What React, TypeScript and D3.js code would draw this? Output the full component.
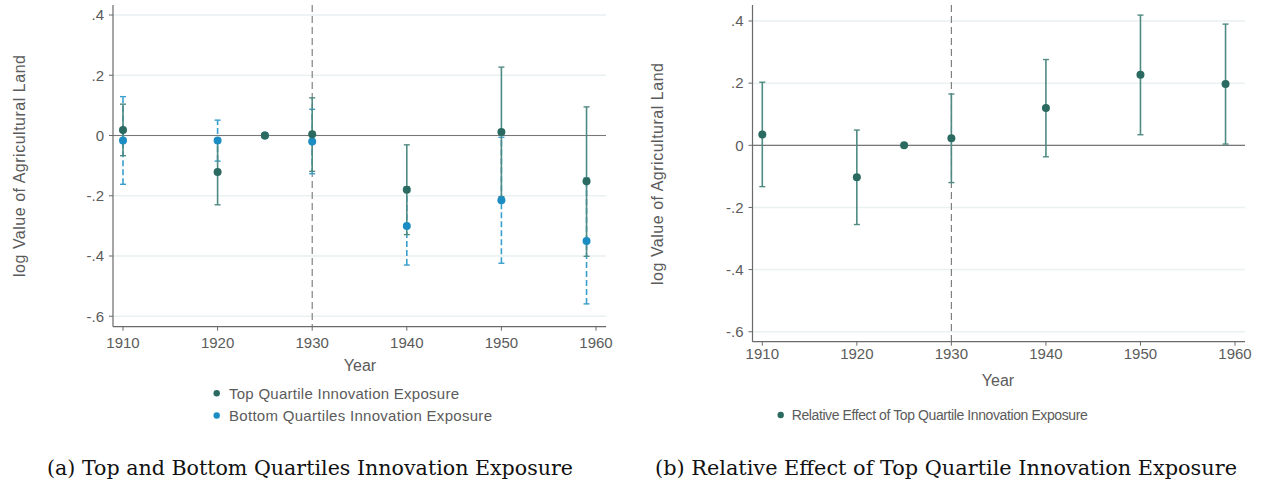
import React from "react";
import * as d3 from "d3";

// ---------- data ----------
const yearsA = [1910, 1920, 1925, 1930, 1940, 1950, 1959];
const topEst = [0.018, -0.121, 0, 0.004, -0.18, 0.012, -0.152];
const topLo = [-0.067, -0.23, 0, -0.119, -0.329, -0.203, -0.401];
const topHi = [0.104, -0.012, 0, 0.125, -0.031, 0.227, 0.095];
const botEst = [-0.017, -0.017, 0, -0.02, -0.3, -0.215, -0.35];
const botLo = [-0.162, -0.085, 0, -0.127, -0.43, -0.424, -0.559];
const botHi = [0.129, 0.051, 0, 0.087, -0.17, -0.006, -0.141];

const yearsB = [1910, 1920, 1925, 1930, 1940, 1950, 1959];
const relEst = [0.035, -0.103, 0, 0.0225, 0.12, 0.227, 0.197];
const relLo = [-0.133, -0.255, 0, -0.12, -0.037, 0.034, 0.004];
const relHi = [0.203, 0.049, 0, 0.165, 0.276, 0.419, 0.39];

const xTicks = [1910, 1920, 1930, 1940, 1950, 1960];
const yTicks = [0.4, 0.2, 0, -0.2, -0.4, -0.6];
const yTickLabels = [".4", ".2", "0", "-.2", "-.4", "-.6"];

const legendA = ["Top Quartile Innovation Exposure", "Bottom Quartiles Innovation Exposure"];
const legendB = ["Relative Effect of Top Quartile Innovation Exposure"];
const captionA = "(a) Top and Bottom Quartiles Innovation Exposure";
const captionB = "(b) Relative Effect of Top Quartile Innovation Exposure";

const DARK = "#2b6a61";
const DARK_CI = "#4f8a83";
const BLUE = "#1b8dc2";
const BLUE_CI = "#3a9fcc";
const GRID = "#e9f1f3";
const AXIS = "#6a6a6a";
const TXT = "#5b5b5b";
const SANS = "'Liberation Sans', Arial, sans-serif";
const SERIF = "'DejaVu Serif', 'Liberation Serif', serif";

type Series = {
  years: number[];
  est: number[];
  lo: number[];
  hi: number[];
  color: string;
  ciColor: string;
  dash?: string;
};

type PanelProps = {
  x0: number;
  x1: number;
  y0: number;
  y1: number;
  xPix: [number, number];
  yPix: [number, number];
  series: Series[];
  yLabelX: number;
  yLabelY: number;
  yearX: number;
  yearY: number;
  tickSize: number;
  xLabelOffset: number;
};

function Panel(p: PanelProps) {
  const x = d3.scaleLinear().domain([1910, 1960]).range(p.xPix);
  const y = d3.scaleLinear().domain([0, 0.4]).range(p.yPix);
  const cap = 3;
  return (
    <g>
      {yTicks.map((t) => (
        <line key={"g" + t} x1={p.x0} x2={p.x1} y1={y(t)} y2={y(t)} stroke={GRID} strokeWidth={1.5} />
      ))}
      <line x1={p.x0} x2={p.x1} y1={y(0)} y2={y(0)} stroke="#777" strokeWidth={1.2} />
      <line x1={x(1930)} x2={x(1930)} y1={p.y0} y2={p.y1} stroke="#777" strokeWidth={1.1} strokeDasharray="7,4" />
      <line x1={p.x0} x2={p.x0} y1={p.y0} y2={p.y1} stroke={AXIS} strokeWidth={1.2} />
      <line x1={p.x0} x2={p.x1} y1={p.y1} y2={p.y1} stroke={AXIS} strokeWidth={1.2} />
      {yTicks.map((t, i) => (
        <g key={"yt" + t}>
          <line x1={p.x0 - 4} x2={p.x0} y1={y(t)} y2={y(t)} stroke={AXIS} strokeWidth={1} />
          <text x={p.x0 - 9} y={y(t)} dy="0.35em" textAnchor="end" fontFamily={SANS} fontSize={p.tickSize} fill={TXT}>
            {yTickLabels[i]}
          </text>
        </g>
      ))}
      {xTicks.map((t) => (
        <g key={"xt" + t}>
          <line x1={x(t)} x2={x(t)} y1={p.y1} y2={p.y1 + 4} stroke={AXIS} strokeWidth={1} />
          <text x={x(t)} y={p.y1 + p.xLabelOffset} textAnchor="middle" fontFamily={SANS} fontSize={p.tickSize} fill={TXT}>
            {t}
          </text>
        </g>
      ))}
      <text
        transform={`translate(${p.yLabelX},${p.yLabelY}) rotate(-90)`}
        textAnchor="middle"
        fontFamily={SANS}
        fontSize={16}
        fill={TXT}
        textLength={222}
      >
        log Value of Agricultural Land
      </text>
      <text x={p.yearX} y={p.yearY} textAnchor="middle" fontFamily={SANS} fontSize={16} fill={TXT}>
        Year
      </text>
      {p.series.map((s, si) =>
        s.years.map((yr, i) =>
          s.lo[i] === s.hi[i] ? null : (
            <g key={"ci" + si + "-" + i}>
              <line x1={x(yr)} x2={x(yr)} y1={y(s.lo[i])} y2={y(s.hi[i])} stroke={s.ciColor} strokeWidth={1.6} strokeDasharray={s.dash} />
              <line x1={x(yr) - cap} x2={x(yr) + cap} y1={y(s.lo[i])} y2={y(s.lo[i])} stroke={s.ciColor} strokeWidth={1.4} />
              <line x1={x(yr) - cap} x2={x(yr) + cap} y1={y(s.hi[i])} y2={y(s.hi[i])} stroke={s.ciColor} strokeWidth={1.4} />
            </g>
          )
        )
      )}
      {p.series.map((s, si) =>
        s.years.map((yr, i) => <circle key={"pt" + si + "-" + i} cx={x(yr)} cy={y(s.est[i])} r={4} fill={s.color} />)
      )}
    </g>
  );
}

export default function App() {
  const seriesA: Series[] = [
    { years: yearsA, est: botEst, lo: botLo, hi: botHi, color: BLUE, ciColor: BLUE_CI, dash: "6,3" },
    { years: yearsA, est: topEst, lo: topLo, hi: topHi, color: DARK, ciColor: DARK_CI },
  ];
  const seriesB: Series[] = [{ years: yearsB, est: relEst, lo: relLo, hi: relHi, color: DARK, ciColor: DARK_CI }];
  return (
    <svg width={1262} height={485} style={{ position: "absolute", left: 0, top: 0, background: "#fff" }}>
      <Panel
        x0={113}
        x1={606}
        y0={5}
        y1={326.7}
        xPix={[123, 596]}
        yPix={[135.5, 15]}
        series={seriesA}
        yLabelX={25}
        yLabelY={166}
        yearX={360}
        yearY={371}
        tickSize={15}
        xLabelOffset={21}
      />
      <Panel
        x0={752.5}
        x1={1245}
        y0={5}
        y1={341.7}
        xPix={[762.3, 1235]}
        yPix={[145.3, 21]}
        series={seriesB}
        yLabelX={663}
        yLabelY={174}
        yearX={998}
        yearY={386}
        tickSize={15}
        xLabelOffset={17}
      />
      <circle cx={216.7} cy={393.3} r={3.2} fill={DARK} />
      <text x={229} y={393.3} dy="0.35em" fontFamily={SANS} fontSize={15} fill={TXT} textLength={230}>
        {legendA[0]}
      </text>
      <circle cx={216.7} cy={415.5} r={3.2} fill={BLUE} />
      <text x={229} y={415.5} dy="0.35em" fontFamily={SANS} fontSize={15} fill={TXT} textLength={263}>
        {legendA[1]}
      </text>
      <circle cx={780.7} cy={415} r={3.2} fill={DARK} />
      <text x={791.7} y={415} dy="0.35em" fontFamily={SANS} fontSize={14} fill={TXT} textLength={296}>
        {legendB[0]}
      </text>
      <text x={47} y={475} fontFamily={SERIF} fontSize={21} fill="#111" textLength={526} lengthAdjust="spacingAndGlyphs">
        {captionA}
      </text>
      <text x={655} y={475} fontFamily={SERIF} fontSize={21} fill="#111" textLength={582} lengthAdjust="spacingAndGlyphs">
        {captionB}
      </text>
    </svg>
  );
}
